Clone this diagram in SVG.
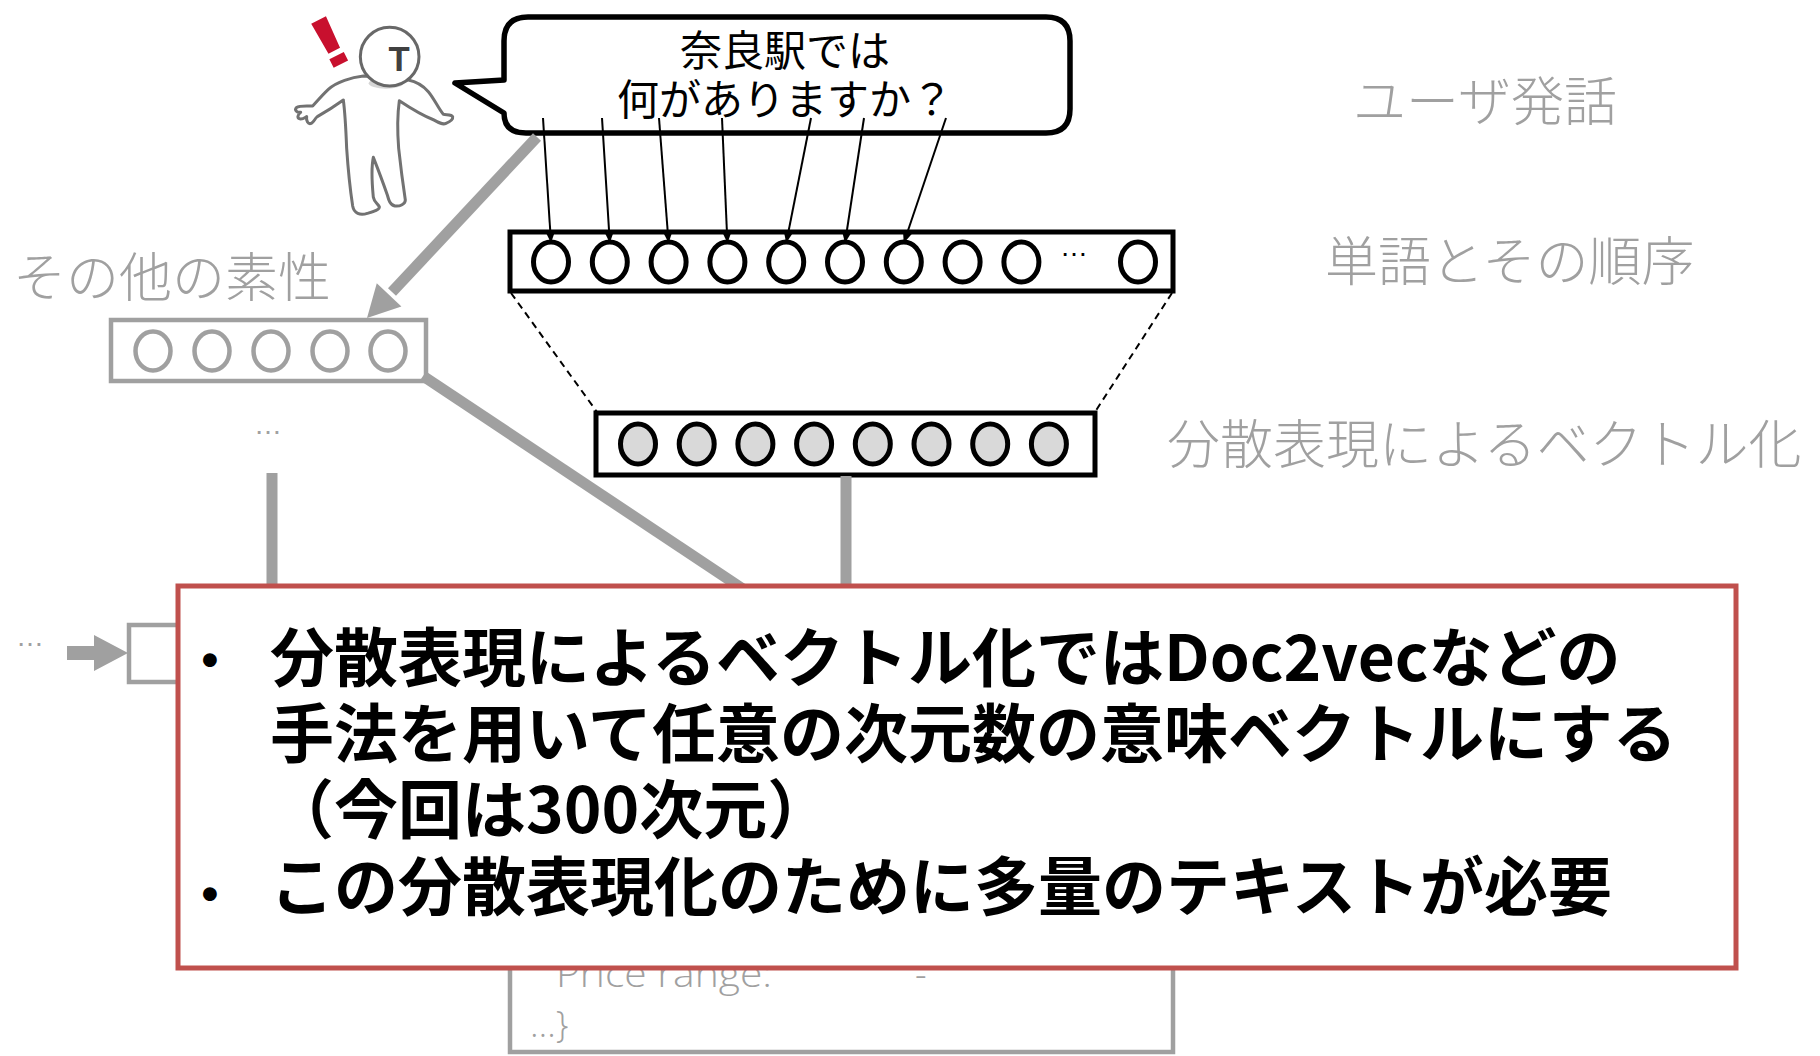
<svg xmlns="http://www.w3.org/2000/svg" width="1820" height="1056" viewBox="0 0 1820 1056">
  <defs>
    <marker id="tip" viewBox="0 0 12 10" refX="12" refY="5" markerWidth="12" markerHeight="10" markerUnits="userSpaceOnUse" orient="auto">
      <path d="M0,0 L12,5 L0,10 Z" fill="#000"/>
    </marker>
    <style>
      .jp { font-family: "Noto Sans CJK JP", "Noto Sans", sans-serif; }
      .label { font-size: 53px; fill: #a0a0a0; font-weight: 300; }
      .unit { fill: #fff; stroke: #000; stroke-width: 5; }
      .unit-on { fill: #d9d9d9; stroke: #000; stroke-width: 5; }
      .gunit { fill: #fff; stroke: #a0a0a0; stroke-width: 4.5; }
      .frame { fill: #fff; stroke: #000; stroke-width: 5; }
      .gframe { fill: #fff; stroke: #a0a0a0; stroke-width: 4.5; }
      .thin { stroke: #000; stroke-width: 2; fill: none; }
      .dash { stroke: #000; stroke-width: 2; stroke-dasharray: 7 5; fill: none; }
      .thick { stroke: #a0a0a0; stroke-width: 11; fill: none; }
      .dots { font-family: "Liberation Sans", sans-serif; font-size: 28px; }
      .note { font-size: 64px; font-weight: 700; fill: #000; }
      .bullet { font-family: "Liberation Sans", sans-serif; font-size: 48px; font-weight: 700; }
      .rec { font-family: "Open Sans", sans-serif; font-weight: 300; font-size: 36px; fill: #a0a0a0; }
    </style>
  </defs>

  <rect width="1820" height="1056" fill="#fff"/>

  <!-- user figure -->
  <g id="user">
    <g transform="translate(280 0) scale(0.33333)">
      <path d="M 250 228 C 215 232, 170 245, 145 268 C 125 287, 110 305, 98 318 C 80 318, 58 316, 50 322 C 42 330, 50 338, 62 337 C 52 344, 50 356, 62 357 C 70 357, 76 352, 80 350 C 78 362, 84 374, 94 370 C 102 366, 104 356, 112 350 C 138 335, 165 318, 190 300 C 196 345, 198 395, 200 445 C 204 505, 210 565, 218 618 C 222 640, 240 648, 262 640 C 280 635, 300 630, 298 620 C 292 610, 282 605, 280 592 C 276 550, 272 510, 280 472 C 295 510, 310 550, 322 585 C 326 600, 330 615, 345 618 C 360 620, 376 612, 376 600 C 370 560, 362 500, 356 445 C 352 395, 352 345, 358 302 C 385 320, 425 345, 462 360 C 476 368, 488 375, 498 370 C 508 366, 520 360, 518 350 C 515 342, 500 345, 490 343 C 475 325, 462 295, 445 275 C 430 258, 410 245, 385 240 Z" fill="#fff" stroke="#727272" stroke-width="9" stroke-linejoin="round"/>
      <ellipse cx="318" cy="250" rx="52" ry="16" fill="#d6d6d6"/>
      <circle cx="329" cy="170" r="88" fill="#fff" stroke="#686868" stroke-width="9"/>
      <text x="357" y="214" text-anchor="middle" font-family="Liberation Sans, sans-serif" font-weight="700" font-size="104" fill="#404040">T</text>
    </g>
    <text transform="translate(341 64) rotate(-27) scale(1.6 1)" text-anchor="middle" font-family="Liberation Sans, sans-serif" font-weight="700" font-size="72" fill="#c8102e">!</text>
  </g>

  <!-- speech bubble -->
  <g id="utterance">
    <path d="M 528 17 H 1046 Q 1070 17 1070 41 V 109 Q 1070 133 1046 133 H 526 Q 504 133 504 113 L 455 83 L 504 80 V 41 Q 504 17 528 17 Z" fill="#fff" stroke="#000" stroke-width="5.5" stroke-linejoin="round"/>
    <text class="jp" x="785" y="66" text-anchor="middle" font-size="42">奈良駅では</text>
    <text class="jp" x="785" y="115" text-anchor="middle" font-size="42">何がありますか？</text>
  </g>

  <!-- word sequence layer -->
  <g id="words">
    <rect class="frame" x="510" y="232" width="663" height="59"/>
    <ellipse class="unit" cx="551" cy="262" rx="17.5" ry="20"/>
    <ellipse class="unit" cx="609.8" cy="262" rx="17.5" ry="20"/>
    <ellipse class="unit" cx="668.6" cy="262" rx="17.5" ry="20"/>
    <ellipse class="unit" cx="727.4" cy="262" rx="17.5" ry="20"/>
    <ellipse class="unit" cx="786.2" cy="262" rx="17.5" ry="20"/>
    <ellipse class="unit" cx="845" cy="262" rx="17.5" ry="20"/>
    <ellipse class="unit" cx="903.8" cy="262" rx="17.5" ry="20"/>
    <ellipse class="unit" cx="962.6" cy="262" rx="17.5" ry="20"/>
    <ellipse class="unit" cx="1021.4" cy="262" rx="17.5" ry="20"/>
    <text class="dots" x="1074" y="256" text-anchor="middle">…</text>
    <ellipse class="unit" cx="1138" cy="262" rx="17.5" ry="20"/>
  </g>

  <!-- distributed representation layer -->
  <g id="embedding">
    <rect class="frame" x="596" y="413" width="499" height="62"/>
    <ellipse class="unit-on" cx="638" cy="444" rx="17.5" ry="20"/>
    <ellipse class="unit-on" cx="696.7" cy="444" rx="17.5" ry="20"/>
    <ellipse class="unit-on" cx="755.4" cy="444" rx="17.5" ry="20"/>
    <ellipse class="unit-on" cx="814.1" cy="444" rx="17.5" ry="20"/>
    <ellipse class="unit-on" cx="872.8" cy="444" rx="17.5" ry="20"/>
    <ellipse class="unit-on" cx="931.5" cy="444" rx="17.5" ry="20"/>
    <ellipse class="unit-on" cx="990.2" cy="444" rx="17.5" ry="20"/>
    <ellipse class="unit-on" cx="1048.9" cy="444" rx="17.5" ry="20"/>
  </g>

  <!-- other features layer -->
  <g id="other-features">
    <rect class="gframe" x="111" y="320" width="315" height="61"/>
    <ellipse class="gunit" cx="153" cy="351" rx="17.5" ry="19.5"/>
    <ellipse class="gunit" cx="212" cy="351" rx="17.5" ry="19.5"/>
    <ellipse class="gunit" cx="271" cy="351" rx="17.5" ry="19.5"/>
    <ellipse class="gunit" cx="330" cy="351" rx="17.5" ry="19.5"/>
    <ellipse class="gunit" cx="388" cy="351" rx="17.5" ry="19.5"/>
    <text class="dots" x="268" y="434" text-anchor="middle" fill="#a0a0a0">…</text>
  </g>

  <!-- layer captions -->
  <g id="captions" class="jp">
    <text class="label" x="1353" y="121">ユーザ発話</text>
    <text class="label" x="1325" y="281">単語とその順序</text>
    <text class="label" x="1167" y="464">分散表現によるベクトル化</text>
    <text class="label" x="13" y="297">その他の素性</text>
  </g>

  <!-- combined input block (left) -->
  <g id="input-block">
    <text class="dots" x="30" y="646" text-anchor="middle" fill="#a0a0a0">…</text>
    <rect class="gframe" x="129" y="625" width="90" height="57"/>
  </g>

  <!-- facility record -->
  <g id="record">
    <rect class="gframe" x="510" y="930" width="663" height="122"/>
    <text class="rec" x="556" y="987" textLength="216" lengthAdjust="spacingAndGlyphs">Price range:</text>
    <text class="rec" x="915" y="987">-</text>
    <text class="rec" x="530" y="1037">…}</text>
  </g>

  <!-- connectors -->
  <g id="connectors">
    <line class="thin" x1="543" y1="118" x2="551" y2="243" marker-end="url(#tip)"/>
    <line class="thin" x1="602" y1="118" x2="609.8" y2="243" marker-end="url(#tip)"/>
    <line class="thin" x1="659" y1="118" x2="668.6" y2="243" marker-end="url(#tip)"/>
    <line class="thin" x1="722" y1="118" x2="727.4" y2="243" marker-end="url(#tip)"/>
    <line class="thin" x1="811" y1="118" x2="786.2" y2="243" marker-end="url(#tip)"/>
    <line class="thin" x1="864" y1="118" x2="845" y2="243" marker-end="url(#tip)"/>
    <line class="thin" x1="946" y1="118" x2="903.8" y2="243" marker-end="url(#tip)"/>

    <line class="dash" x1="511" y1="293" x2="597" y2="412"/>
    <line class="dash" x1="1172" y1="293" x2="1095" y2="412"/>

    <line class="thick" x1="537" y1="137" x2="392" y2="292"/>
    <polygon points="367,318 401.4,306.6 376.8,283.2" fill="#a0a0a0"/>

    <line class="thick" x1="423" y1="376" x2="770" y2="607"/>
    <line class="thick" x1="846" y1="476" x2="846" y2="600"/>
    <line class="thick" x1="272" y1="473" x2="272" y2="600"/>

    <path d="M67 646 H94 V635 L128 653 L94 671 V660 H67 Z" fill="#a0a0a0"/>
  </g>

  <!-- explanatory note -->
  <g id="note">
    <rect x="178" y="586" width="1558" height="382" fill="#fff" stroke="#c0504d" stroke-width="5"/>
    <text class="bullet" x="210" y="676" text-anchor="middle">•</text>
    <text class="jp note" x="270" y="681">分散表現によるベクトル化ではDoc2vecなどの</text>
    <text class="jp note" x="270" y="757">手法を用いて任意の次元数の意味ベクトルにする</text>
    <text class="jp note" x="270" y="833">（今回は300次元）</text>
    <text class="bullet" x="210" y="910" text-anchor="middle">•</text>
    <text class="jp note" x="270" y="910">この分散表現化のために多量のテキストが必要</text>
  </g>
</svg>
